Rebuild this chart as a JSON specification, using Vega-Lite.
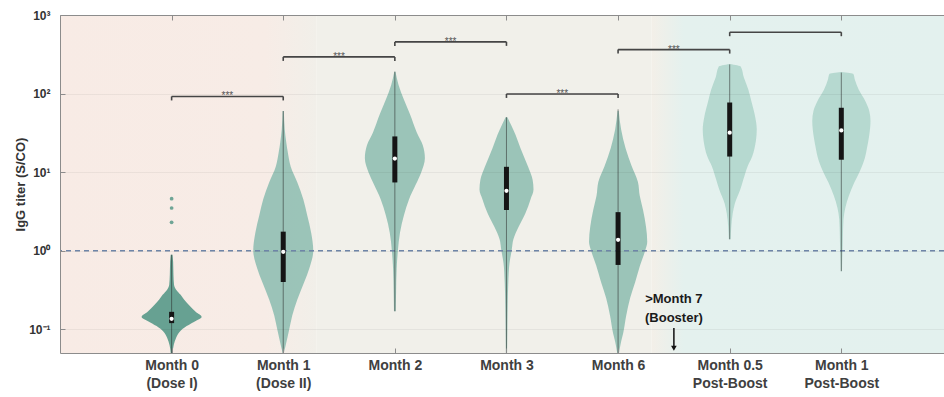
{
  "$schema": "https://vega.github.io/schema/vega-lite/v6.json",
  "width": 884,
  "height": 338,
  "autosize": {"type": "none"},
  "padding": {"left": 60, "top": 15, "right": 0, "bottom": 44},
  "background": "white",
  "config": {
    "font": "Liberation Sans",
    "view": {"stroke": null},
    "axis": {"labelFont": "Liberation Sans", "titleFont": "Liberation Sans", "labelColor": "#333333", "titleColor": "#333333", "domainColor": "#8c8c8c", "tickColor": "#8c8c8c", "labelFontWeight": "bold"}
  },
  "datasets": {
    "violin": [
      {"group": "Month 0", "titer": 0.05, "density": 0.03},
      {"group": "Month 0", "titer": 0.063, "density": 0.07},
      {"group": "Month 0", "titer": 0.078, "density": 0.15},
      {"group": "Month 0", "titer": 0.093, "density": 0.27},
      {"group": "Month 0", "titer": 0.11, "density": 0.5},
      {"group": "Month 0", "titer": 0.128, "density": 0.8},
      {"group": "Month 0", "titer": 0.144, "density": 1.0},
      {"group": "Month 0", "titer": 0.167, "density": 0.8},
      {"group": "Month 0", "titer": 0.2, "density": 0.6},
      {"group": "Month 0", "titer": 0.238, "density": 0.42},
      {"group": "Month 0", "titer": 0.275, "density": 0.3},
      {"group": "Month 0", "titer": 0.32, "density": 0.15},
      {"group": "Month 0", "titer": 0.37, "density": 0.08},
      {"group": "Month 0", "titer": 0.5, "density": 0.06},
      {"group": "Month 0", "titer": 0.72, "density": 0.05},
      {"group": "Month 0", "titer": 0.89, "density": 0.03},

      {"group": "Month 1", "titer": 0.05, "density": 0.02},
      {"group": "Month 1", "titer": 0.06, "density": 0.07},
      {"group": "Month 1", "titer": 0.1, "density": 0.2},
      {"group": "Month 1", "titer": 0.15, "density": 0.3},
      {"group": "Month 1", "titer": 0.24, "density": 0.47},
      {"group": "Month 1", "titer": 0.4, "density": 0.7},
      {"group": "Month 1", "titer": 0.6, "density": 0.87},
      {"group": "Month 1", "titer": 1.0, "density": 1.0},
      {"group": "Month 1", "titer": 1.7, "density": 0.93},
      {"group": "Month 1", "titer": 2.8, "density": 0.8},
      {"group": "Month 1", "titer": 4.5, "density": 0.67},
      {"group": "Month 1", "titer": 7.4, "density": 0.47},
      {"group": "Month 1", "titer": 11.7, "density": 0.25},
      {"group": "Month 1", "titer": 18, "density": 0.15},
      {"group": "Month 1", "titer": 24, "density": 0.1},
      {"group": "Month 1", "titer": 35, "density": 0.05},
      {"group": "Month 1", "titer": 60, "density": 0.02},

      {"group": "Month 2", "titer": 0.17, "density": 0.03},
      {"group": "Month 2", "titer": 0.3, "density": 0.04},
      {"group": "Month 2", "titer": 0.6, "density": 0.06},
      {"group": "Month 2", "titer": 1.0, "density": 0.1},
      {"group": "Month 2", "titer": 1.7, "density": 0.17},
      {"group": "Month 2", "titer": 2.8, "density": 0.3},
      {"group": "Month 2", "titer": 4.5, "density": 0.47},
      {"group": "Month 2", "titer": 7, "density": 0.7},
      {"group": "Month 2", "titer": 10, "density": 0.88},
      {"group": "Month 2", "titer": 15, "density": 1.0},
      {"group": "Month 2", "titer": 22, "density": 0.93},
      {"group": "Month 2", "titer": 32, "density": 0.73},
      {"group": "Month 2", "titer": 55, "density": 0.5},
      {"group": "Month 2", "titer": 84, "density": 0.3},
      {"group": "Month 2", "titer": 130, "density": 0.12},
      {"group": "Month 2", "titer": 190, "density": 0.02},

      {"group": "Month 3", "titer": 0.05, "density": 0.02},
      {"group": "Month 3", "titer": 0.1, "density": 0.03},
      {"group": "Month 3", "titer": 0.2, "density": 0.04},
      {"group": "Month 3", "titer": 0.4, "density": 0.06},
      {"group": "Month 3", "titer": 0.7, "density": 0.1},
      {"group": "Month 3", "titer": 1.0, "density": 0.17},
      {"group": "Month 3", "titer": 1.4, "density": 0.23},
      {"group": "Month 3", "titer": 2, "density": 0.4},
      {"group": "Month 3", "titer": 3, "density": 0.63},
      {"group": "Month 3", "titer": 4.5, "density": 0.8},
      {"group": "Month 3", "titer": 6, "density": 0.9},
      {"group": "Month 3", "titer": 8, "density": 0.87},
      {"group": "Month 3", "titer": 11.7, "density": 0.72},
      {"group": "Month 3", "titer": 20, "density": 0.47},
      {"group": "Month 3", "titer": 30, "density": 0.3},
      {"group": "Month 3", "titer": 40, "density": 0.15},
      {"group": "Month 3", "titer": 50, "density": 0.03},

      {"group": "Month 6", "titer": 0.05, "density": 0.03},
      {"group": "Month 6", "titer": 0.07, "density": 0.1},
      {"group": "Month 6", "titer": 0.09, "density": 0.17},
      {"group": "Month 6", "titer": 0.15, "density": 0.27},
      {"group": "Month 6", "titer": 0.25, "density": 0.4},
      {"group": "Month 6", "titer": 0.4, "density": 0.57},
      {"group": "Month 6", "titer": 0.65, "density": 0.73},
      {"group": "Month 6", "titer": 1.0, "density": 0.9},
      {"group": "Month 6", "titer": 1.3, "density": 0.97},
      {"group": "Month 6", "titer": 2, "density": 0.93},
      {"group": "Month 6", "titer": 3.3, "density": 0.83},
      {"group": "Month 6", "titer": 5, "density": 0.72},
      {"group": "Month 6", "titer": 7.5, "density": 0.66},
      {"group": "Month 6", "titer": 12, "density": 0.45},
      {"group": "Month 6", "titer": 20, "density": 0.25},
      {"group": "Month 6", "titer": 35, "density": 0.1},
      {"group": "Month 6", "titer": 60, "density": 0.02},

      {"group": "Month 0.5 Post-Boost", "titer": 1.4, "density": 0.03},
      {"group": "Month 0.5 Post-Boost", "titer": 2, "density": 0.05},
      {"group": "Month 0.5 Post-Boost", "titer": 3, "density": 0.1},
      {"group": "Month 0.5 Post-Boost", "titer": 4, "density": 0.17},
      {"group": "Month 0.5 Post-Boost", "titer": 6, "density": 0.35},
      {"group": "Month 0.5 Post-Boost", "titer": 8, "density": 0.45},
      {"group": "Month 0.5 Post-Boost", "titer": 12, "density": 0.6},
      {"group": "Month 0.5 Post-Boost", "titer": 16, "density": 0.75},
      {"group": "Month 0.5 Post-Boost", "titer": 25, "density": 0.87},
      {"group": "Month 0.5 Post-Boost", "titer": 35, "density": 0.9},
      {"group": "Month 0.5 Post-Boost", "titer": 50, "density": 0.85},
      {"group": "Month 0.5 Post-Boost", "titer": 80, "density": 0.72},
      {"group": "Month 0.5 Post-Boost", "titer": 112, "density": 0.62},
      {"group": "Month 0.5 Post-Boost", "titer": 160, "density": 0.47},
      {"group": "Month 0.5 Post-Boost", "titer": 220, "density": 0.37},
      {"group": "Month 0.5 Post-Boost", "titer": 238, "density": 0.0},

      {"group": "Month 1 Post-Boost", "titer": 0.55, "density": 0.02},
      {"group": "Month 1 Post-Boost", "titer": 0.8, "density": 0.03},
      {"group": "Month 1 Post-Boost", "titer": 1.0, "density": 0.04},
      {"group": "Month 1 Post-Boost", "titer": 1.5, "density": 0.05},
      {"group": "Month 1 Post-Boost", "titer": 2.5, "density": 0.07},
      {"group": "Month 1 Post-Boost", "titer": 3.5, "density": 0.13},
      {"group": "Month 1 Post-Boost", "titer": 5, "density": 0.25},
      {"group": "Month 1 Post-Boost", "titer": 7.4, "density": 0.43},
      {"group": "Month 1 Post-Boost", "titer": 10, "density": 0.6},
      {"group": "Month 1 Post-Boost", "titer": 15, "density": 0.78},
      {"group": "Month 1 Post-Boost", "titer": 20, "density": 0.85},
      {"group": "Month 1 Post-Boost", "titer": 28, "density": 0.92},
      {"group": "Month 1 Post-Boost", "titer": 45, "density": 0.97},
      {"group": "Month 1 Post-Boost", "titer": 60, "density": 0.93},
      {"group": "Month 1 Post-Boost", "titer": 80, "density": 0.8},
      {"group": "Month 1 Post-Boost", "titer": 112, "density": 0.58},
      {"group": "Month 1 Post-Boost", "titer": 150, "density": 0.45},
      {"group": "Month 1 Post-Boost", "titer": 178, "density": 0.4},
      {"group": "Month 1 Post-Boost", "titer": 188, "density": 0.0}
    ],
    "stats": [
      {"group": "Month 0", "pos": 1, "min": 0.05, "q1": 0.12, "median": 0.136, "q3": 0.167, "max": 0.89},
      {"group": "Month 1", "pos": 2, "min": 0.05, "q1": 0.4, "median": 0.97, "q3": 1.75, "max": 60},
      {"group": "Month 2", "pos": 3, "min": 0.17, "q1": 7.4, "median": 14.9, "q3": 28.5, "max": 190},
      {"group": "Month 3", "pos": 4, "min": 0.05, "q1": 3.3, "median": 5.8, "q3": 11.7, "max": 50},
      {"group": "Month 6", "pos": 5, "min": 0.05, "q1": 0.66, "median": 1.38, "q3": 3.1, "max": 63},
      {"group": "Month 0.5 Post-Boost", "pos": 6, "min": 1.4, "q1": 15.8, "median": 31.8, "q3": 77, "max": 235},
      {"group": "Month 1 Post-Boost", "pos": 7, "min": 0.55, "q1": 14.4, "median": 34, "q3": 66, "max": 185}
    ],
    "outliers": [
      {"group": "Month 0", "pos": 1, "titer": 2.3},
      {"group": "Month 0", "pos": 1, "titer": 3.5},
      {"group": "Month 0", "pos": 1, "titer": 4.6}
    ],
    "brackets": [
      {"id": 1, "from": 1, "to": 2, "level": 92, "label": "***"},
      {"id": 2, "from": 2, "to": 3, "level": 293, "label": "***"},
      {"id": 3, "from": 3, "to": 4, "level": 455, "label": "***"},
      {"id": 4, "from": 4, "to": 5, "level": 99, "label": "***"},
      {"id": 5, "from": 5, "to": 6, "level": 363, "label": "***"},
      {"id": 6, "from": 6, "to": 7, "level": 604, "label": ""}
    ]
  },
  "layer": [
    {
      "data": {"values": [{}]},
      "layer": [
        {
          "mark": {"type": "rect", "color": {"gradient": "linear", "x1": 0, "x2": 1, "y1": 0, "y2": 0, "stops": [{"offset": 0, "color": "#f8ebe5"}, {"offset": 0.8, "color": "#f7ece6"}, {"offset": 1, "color": "#f1efe9"}]}},
          "encoding": {
            "x": {"datum": 0, "type": "quantitative", "scale": {"domain": [0, 7.92], "nice": false, "zero": false},
              "axis": {"orient": "bottom", "values": [1, 2, 3, 4, 5, 6, 7], "title": null, "grid": false, "tickSize": -5, "labelPadding": 10, "labelFontSize": 14, "labelLineHeight": 18, "labelBaseline": "top", "labelColor": "#404040", "zindex": 1,
                "labelExpr": "datum.value == 1 ? ['Month 0', '(Dose I)'] : datum.value == 2 ? ['Month 1', '(Dose II)'] : datum.value == 3 ? 'Month 2' : datum.value == 4 ? 'Month 3' : datum.value == 5 ? 'Month 6' : datum.value == 6 ? ['Month 0.5', 'Post-Boost'] : ['Month 1', 'Post-Boost']"}},
            "x2": {"datum": 2.3}
          }
        },
        {
          "mark": {"type": "rect", "color": "#f1f0ea"},
          "encoding": {"x": {"datum": 2.3, "type": "quantitative"}, "x2": {"datum": 5.3}}
        },
        {
          "mark": {"type": "rect", "color": {"gradient": "linear", "x1": 0, "x2": 1, "y1": 0, "y2": 0, "stops": [{"offset": 0, "color": "#f3efe8"}, {"offset": 0.11, "color": "#e4f1ee"}, {"offset": 1, "color": "#e3f1ee"}]}},
          "encoding": {"x": {"datum": 5.3, "type": "quantitative"}, "x2": {"datum": 7.92}}
        }
      ]
    },
    {
      "data": {"name": "violin"},
      "transform": [{"filter": "datum.group == 'Month 0'"}],
      "mark": {"type": "area", "orient": "horizontal", "interpolate": "monotone", "color": "#5f9d8d", "opacity": 0.95},
      "encoding": {
        "y": {"field": "titer", "type": "quantitative", "scale": {"type": "log", "domain": [0.05, 1000], "nice": false}},
        "x": {"field": "density", "type": "quantitative", "stack": "center", "scale": {"domain": [-1.36, 13.37], "nice": false, "zero": false}, "axis": null}
      }
    },
    {
      "data": {"name": "violin"},
      "transform": [{"filter": "datum.group == 'Month 1'"}],
      "mark": {"type": "area", "orient": "horizontal", "interpolate": "monotone", "color": "#96c1b5", "opacity": 0.95},
      "encoding": {
        "y": {"field": "titer", "type": "quantitative", "scale": {"type": "log", "domain": [0.05, 1000], "nice": false}},
        "x": {"field": "density", "type": "quantitative", "stack": "center", "scale": {"domain": [-3.22, 11.51], "nice": false, "zero": false}, "axis": null}
      }
    },
    {
      "data": {"name": "violin"},
      "transform": [{"filter": "datum.group == 'Month 2'"}],
      "mark": {"type": "area", "orient": "horizontal", "interpolate": "monotone", "color": "#96c1b5", "opacity": 0.95},
      "encoding": {
        "y": {"field": "titer", "type": "quantitative", "scale": {"type": "log", "domain": [0.05, 1000], "nice": false}},
        "x": {"field": "density", "type": "quantitative", "stack": "center", "scale": {"domain": [-5.08, 9.65], "nice": false, "zero": false}, "axis": null}
      }
    },
    {
      "data": {"name": "violin"},
      "transform": [{"filter": "datum.group == 'Month 3'"}],
      "mark": {"type": "area", "orient": "horizontal", "interpolate": "monotone", "color": "#96c1b5", "opacity": 0.95},
      "encoding": {
        "y": {"field": "titer", "type": "quantitative", "scale": {"type": "log", "domain": [0.05, 1000], "nice": false}},
        "x": {"field": "density", "type": "quantitative", "stack": "center", "scale": {"domain": [-6.99, 7.74], "nice": false, "zero": false}, "axis": null}
      }
    },
    {
      "data": {"name": "violin"},
      "transform": [{"filter": "datum.group == 'Month 6'"}],
      "mark": {"type": "area", "orient": "horizontal", "interpolate": "monotone", "color": "#96c1b5", "opacity": 0.95},
      "encoding": {
        "y": {"field": "titer", "type": "quantitative", "scale": {"type": "log", "domain": [0.05, 1000], "nice": false}},
        "x": {"field": "density", "type": "quantitative", "stack": "center", "scale": {"domain": [-8.815, 5.915], "nice": false, "zero": false}, "axis": null}
      }
    },
    {
      "data": {"name": "violin"},
      "transform": [{"filter": "datum.group == 'Month 0.5 Post-Boost'"}],
      "mark": {"type": "area", "orient": "horizontal", "interpolate": "monotone", "color": "#b3d7ce", "opacity": 0.95},
      "encoding": {
        "y": {"field": "titer", "type": "quantitative", "scale": {"type": "log", "domain": [0.05, 1000], "nice": false}},
        "x": {"field": "density", "type": "quantitative", "stack": "center", "scale": {"domain": [-10.71, 4.02], "nice": false, "zero": false}, "axis": null}
      }
    },
    {
      "data": {"name": "violin"},
      "transform": [{"filter": "datum.group == 'Month 1 Post-Boost'"}],
      "mark": {"type": "area", "orient": "horizontal", "interpolate": "monotone", "color": "#b3d7ce", "opacity": 0.95},
      "encoding": {
        "y": {"field": "titer", "type": "quantitative", "scale": {"type": "log", "domain": [0.05, 1000], "nice": false}},
        "x": {"field": "density", "type": "quantitative", "stack": "center", "scale": {"domain": [-12.535, 2.195], "nice": false, "zero": false}, "axis": null}
      }
    },
    {
      "layer": [
        {
          "data": {"values": [{"threshold": 1}]},
          "mark": {"type": "rule", "color": "#6e85a8", "strokeDash": [5, 4], "strokeWidth": 1.3},
          "encoding": {
            "y": {"field": "threshold", "type": "quantitative", "scale": {"type": "log", "domain": [0.05, 1000], "nice": false},
              "axis": {"orient": "left", "values": [0.1, 1, 10, 100, 1000], "title": "IgG titer (S/CO)", "titleFontSize": 13, "titleFontWeight": "bold", "titleX": -33,
                "labelFontSize": 12, "labelFontWeight": "bold", "tickSize": -5, "labelPadding": 15, "grid": true, "gridColor": "#000000", "gridOpacity": 0.05, "zindex": 1,
                "labelExpr": "datum.value == 1000 ? '10³' : datum.value == 100 ? '10²' : datum.value == 10 ? '10¹' : datum.value == 1 ? '10⁰' : '10⁻¹'"}}
          }
        },
        {
          "data": {"name": "stats"},
          "mark": {"type": "rule", "color": "#2a2a2a", "strokeWidth": 1, "opacity": 0.55},
          "encoding": {
            "x": {"field": "pos", "type": "quantitative", "scale": {"domain": [0, 7.92], "nice": false, "zero": false},
              "axis": {"orient": "top", "values": [1, 2, 3, 4, 5, 6, 7], "labels": false, "title": null, "grid": false, "tickSize": -5, "zindex": 1}},
            "y": {"field": "min", "type": "quantitative", "scale": {"type": "log", "domain": [0.05, 1000], "nice": false}},
            "y2": {"field": "max"}
          }
        },
        {
          "data": {"name": "stats"},
          "mark": {"type": "rule", "color": "#151515", "strokeWidth": 5},
          "encoding": {
            "x": {"field": "pos", "type": "quantitative", "scale": {"domain": [0, 7.92], "nice": false, "zero": false}},
            "y": {"field": "q1", "type": "quantitative", "scale": {"type": "log", "domain": [0.05, 1000], "nice": false}},
            "y2": {"field": "q3"}
          }
        },
        {
          "data": {"name": "stats"},
          "mark": {"type": "point", "filled": true, "color": "#ffffff", "size": 18, "opacity": 1},
          "encoding": {
            "x": {"field": "pos", "type": "quantitative", "scale": {"domain": [0, 7.92], "nice": false, "zero": false}},
            "y": {"field": "median", "type": "quantitative", "scale": {"type": "log", "domain": [0.05, 1000], "nice": false}}
          }
        },
        {
          "data": {"name": "outliers"},
          "mark": {"type": "point", "filled": true, "color": "#5f9d8d", "size": 14, "opacity": 0.9},
          "encoding": {
            "x": {"field": "pos", "type": "quantitative", "scale": {"domain": [0, 7.92], "nice": false, "zero": false}},
            "y": {"field": "titer", "type": "quantitative", "scale": {"type": "log", "domain": [0.05, 1000], "nice": false}}
          }
        },
        {
          "data": {"name": "brackets"},
          "mark": {"type": "rule", "color": "#454545", "strokeWidth": 1.6},
          "encoding": {
            "x": {"field": "from", "type": "quantitative", "scale": {"domain": [0, 7.92], "nice": false, "zero": false}},
            "x2": {"field": "to"},
            "y": {"field": "level", "type": "quantitative", "scale": {"type": "log", "domain": [0.05, 1000], "nice": false}}
          }
        },
        {
          "data": {"name": "brackets"},
          "transform": [{"fold": ["from", "to"], "as": ["end", "pos"]}],
          "mark": {"type": "point", "shape": "M0,0L0,1", "filled": false, "color": "#454545", "strokeWidth": 1.6, "size": 64, "opacity": 1},
          "encoding": {
            "x": {"field": "pos", "type": "quantitative", "scale": {"domain": [0, 7.92], "nice": false, "zero": false}},
            "y": {"field": "level", "type": "quantitative", "scale": {"type": "log", "domain": [0.05, 1000], "nice": false}}
          }
        },
        {
          "data": {"name": "brackets"},
          "transform": [
            {"filter": "datum.label != ''"},
            {"fold": ["from", "to"], "as": ["end", "pos"]},
            {"aggregate": [{"op": "mean", "field": "pos", "as": "mid"}], "groupby": ["id", "level", "label"]}
          ],
          "mark": {"type": "text", "fontSize": 10, "color": "#555555", "baseline": "alphabetic", "dy": 3},
          "encoding": {
            "x": {"field": "mid", "type": "quantitative", "scale": {"domain": [0, 7.92], "nice": false, "zero": false}},
            "y": {"field": "level", "type": "quantitative", "scale": {"type": "log", "domain": [0.05, 1000], "nice": false}},
            "text": {"field": "label"}
          }
        },
        {
          "data": {"values": [{"note": ">Month 7\n(Booster)"}]},
          "layer": [
            {
              "mark": {"type": "text", "lineBreak": "\n", "fontSize": 13, "fontWeight": "bold", "color": "#1a1a1a", "align": "center", "baseline": "top", "lineHeight": 19},
              "encoding": {
                "x": {"datum": 5.5, "type": "quantitative", "scale": {"domain": [0, 7.92], "nice": false, "zero": false}},
                "y": {"datum": 0.288, "type": "quantitative", "scale": {"type": "log", "domain": [0.05, 1000], "nice": false}},
                "text": {"field": "note"}
              }
            },
            {
              "mark": {"type": "rule", "color": "#111111", "strokeWidth": 1.5},
              "encoding": {
                "x": {"datum": 5.5, "type": "quantitative", "scale": {"domain": [0, 7.92], "nice": false, "zero": false}},
                "y": {"datum": 0.104, "type": "quantitative", "scale": {"type": "log", "domain": [0.05, 1000], "nice": false}},
                "y2": {"datum": 0.058}
              }
            },
            {
              "mark": {"type": "point", "shape": "triangle-down", "filled": true, "color": "#111111", "size": 32, "opacity": 1},
              "encoding": {
                "x": {"datum": 5.5, "type": "quantitative", "scale": {"domain": [0, 7.92], "nice": false, "zero": false}},
                "y": {"datum": 0.0575, "type": "quantitative", "scale": {"type": "log", "domain": [0.05, 1000], "nice": false}}
              }
            }
          ]
        }
      ]
    }
  ],
  "resolve": {"scale": {"x": "independent"}, "axis": {"x": "independent"}}
}
